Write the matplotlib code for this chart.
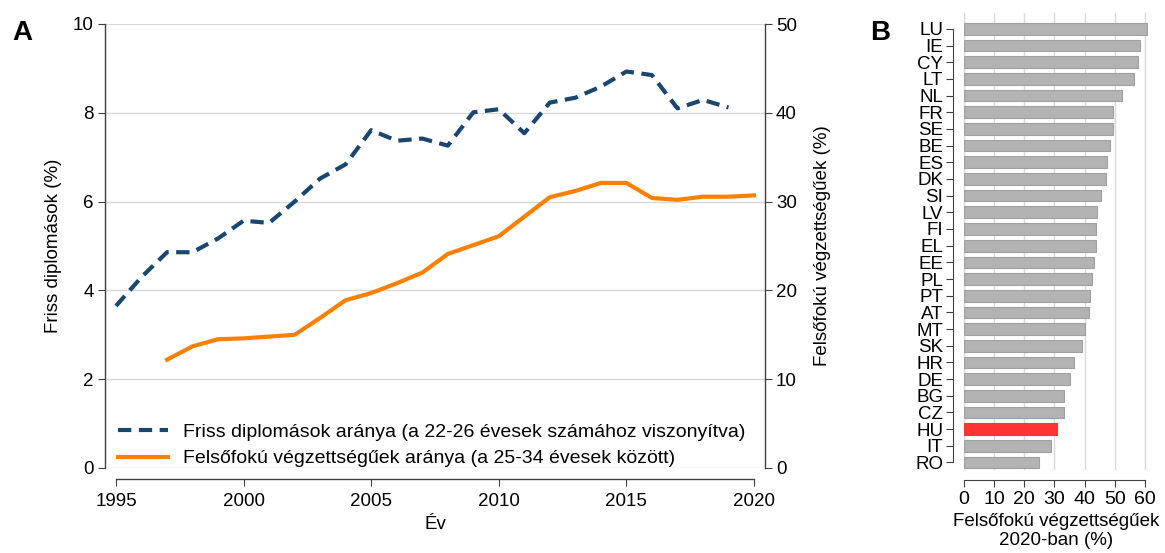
import matplotlib
matplotlib.use("Agg")
import matplotlib.pyplot as plt
import numpy as np

plt.rcParams['font.family'] = ['Liberation Sans', 'DejaVu Sans']

# Panel A data
years_recent = list(range(1995, 2020))
recent_grads = [3.65, 4.3, 4.86, 4.86, 5.17, 5.57, 5.52, 6.0, 6.52, 6.84,
                7.61, 7.37, 7.42, 7.26, 8.01, 8.08, 7.54, 8.23, 8.34, 8.59,
                8.93, 8.85, 8.10, 8.29, 8.12]
years_tertiary = list(range(1997, 2021))
tertiary = [12.2, 13.7, 14.5, 14.6, 14.8, 15.0, 16.9, 18.9, 19.7, 20.8,
            22.0, 24.1, 25.1, 26.1, 28.3, 30.5, 31.2, 32.1, 32.1, 30.4,
            30.2, 30.55, 30.55, 30.7]

# Panel B data
countries = ['LU', 'IE', 'CY', 'LT', 'NL', 'FR', 'SE', 'BE', 'ES', 'DK', 'SI',
             'LV', 'FI', 'EL', 'EE', 'PL', 'PT', 'AT', 'MT', 'SK', 'HR', 'DE',
             'BG', 'CZ', 'HU', 'IT', 'RO']
shares_2020 = [60.6, 58.3, 57.8, 56.2, 52.3, 49.3, 49.3, 48.4, 47.4, 47.0, 45.4,
               44.2, 43.7, 43.7, 43.2, 42.3, 41.8, 41.4, 40.0, 39.0, 36.4, 35.0,
               33.0, 33.0, 30.7, 29.0, 24.9]

NAVY = '#1a476f'
ORANGE = '#ff8000'
GRID = '#d9d9d9'
AXC = '#404040'

W, H = 1165, 553
fig = plt.figure(figsize=(W / 100, H / 100), dpi=100)


def rect(x0, y0, x1, y1):
    return [x0 / W, 1 - y1 / H, (x1 - x0) / W, (y1 - y0) / H]


# ---- Panel A ----
ax = fig.add_axes(rect(105, 24, 765, 468))
ax2 = ax.twinx()
ax.set_xlim(1994.57, 2020.43)
ax.set_ylim(0, 10)
ax2.set_ylim(0, 50)

ax.set_yticks(range(0, 11, 2))
ax2.set_yticks(range(0, 51, 10))
ax.set_xticks(range(1995, 2021, 5))
ax.grid(axis='y', color=GRID, lw=1.0)
ax.set_axisbelow(True)

for a in (ax, ax2):
    a.spines['top'].set_visible(False)
    for s in a.spines.values():
        s.set_color(AXC)
        s.set_linewidth(1.0)
ax.spines['right'].set_visible(False)
ax2.spines['left'].set_visible(False)
ax2.spines['bottom'].set_visible(False)
ax.spines['bottom'].set_position(('outward', 8))
ax.spines['bottom'].set_bounds(1995, 2020)

ax.tick_params(labelsize=13.5, length=5, color=AXC, pad=3)
ax2.tick_params(labelsize=13.5, length=5, color=AXC, pad=3)
ax.tick_params(axis='x', pad=5)

l1, = ax.plot(years_recent, recent_grads, color=NAVY, lw=3, dashes=(3.2, 1.8),
              label='Friss diplomások aránya (a 22-26 évesek számához viszonyítva)')
l2, = ax2.plot(years_tertiary, tertiary, color=ORANGE, lw=3,
               label='Felsőfokú végzettségűek aránya (a 25-34 évesek között)')

ax.set_ylabel('Friss diplomások (%)', fontsize=13.5, labelpad=8)
ax2.set_ylabel('Felsőfokú végzettségűek (%)', fontsize=13.5, labelpad=12)
ax.set_xlabel('Év', fontsize=13.5, labelpad=4)

ax2.legend(handles=[l1, l2], loc='lower left', bbox_to_anchor=(0.008, -0.016),
           frameon=False, fontsize=14, handlelength=2.55, handletextpad=0.8,
           labelspacing=0.45, borderaxespad=0.0, borderpad=0.4)

fig.text(12 / W, 1 - 33 / H, 'A', fontsize=20, fontweight='bold', va='center')
fig.text(870 / W, 1 - 33 / H, 'B', fontsize=20, fontweight='bold', va='center')

# ---- Panel B ----
bx = fig.add_axes(rect(964, 13, 1148, 470))
ypos = np.arange(len(countries))
colors = ['#ff3333' if c == 'HU' else '#b3b3b3' for c in countries]
edges = ['#ff3333' if c == 'HU' else '#a0a0a0' for c in countries]
bx.barh(ypos, shares_2020, height=0.70, color=colors, edgecolor=edges, lw=0.8)
bx.set_xlim(0, 61)
bx.set_ylim(len(countries) - 1 + 0.45, -0.95)
bx.set_yticks(ypos)
bx.set_yticklabels(countries)
for lab in bx.get_yticklabels():
    if lab.get_text() == 'HU':
        lab.set_color('#ff0000')
bx.set_xticks(range(0, 61, 10))
bx.grid(axis='x', color=GRID, lw=1.0)
bx.set_axisbelow(True)
for s in ('top', 'right'):
    bx.spines[s].set_visible(False)
for s in ('left', 'bottom'):
    bx.spines[s].set_color(AXC)
bx.spines['left'].set_position(('outward', 8))
bx.spines['left'].set_bounds(0, len(countries) - 1)
bx.spines['bottom'].set_position(('outward', 7))
bx.spines['bottom'].set_bounds(0, 60)
bx.tick_params(axis='y', labelsize=13.5, length=5, color=AXC, pad=2)
bx.tick_params(axis='x', labelsize=14, length=5, color=AXC, pad=3)
bx.set_xlabel('Felsőfokú végzettségűek\n2020-ban (%)', fontsize=13.5,
              labelpad=4, linespacing=1.15)

fig.savefig('out.png', dpi=100)
